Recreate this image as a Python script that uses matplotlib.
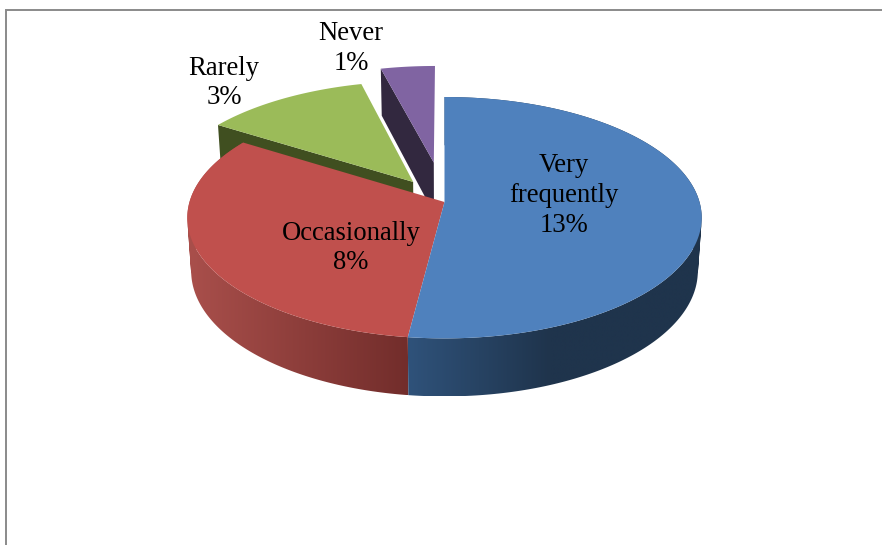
import numpy as np
import matplotlib
matplotlib.use("Agg")
import matplotlib.pyplot as plt
from matplotlib.colors import LinearSegmentedColormap
from matplotlib.patches import PathPatch
from matplotlib.path import Path

categories = ["Very\nfrequently", "Occasionally", "Rarely", "Never"]
values = [13, 8, 3, 1]
pct_labels = ["13%", "8%", "3%", "1%"]

explode = [0.0, 0.0, 0.214, 0.35]
top_colors = ["#4F81BD", "#C0504D", "#9BBB59", "#8064A2"]
cut_colors = ["#1F344C", "#722D2B", "#404F20", "#32283F"]
label_xy = [(564, 195.5), (351, 248), (224, 83), (351, 48.5)]

# projection of the tilted pie onto the picture
CX, CY, RX, RY, K = 444.5, 202.0, 255.0, 118.65, 0.13
H, KH, SHRINK = 52.7, 0.092, 0.985


def project(u, v, drop=False):
    u, v = np.asarray(u, float), np.asarray(v, float)
    d = 1 + K * v
    x = RX * u / d
    y = CY - RY * v / d
    if drop:
        x = x * SHRINK
        y = y + H / (1 + KH * v)
    return CX + x, y


def wall_path(tx, ty, bx, by):
    """Compound path of consistently wound quads joining two arcs."""
    parts = []
    for j in range(len(tx) - 1):
        q = np.array([[tx[j], ty[j]], [tx[j + 1], ty[j + 1]],
                      [bx[j + 1], by[j + 1]], [bx[j], by[j]]])
        area = np.sum(q[:, 0] * np.roll(q[:, 1], -1) - np.roll(q[:, 0], -1) * q[:, 1])
        if area < 0:
            q = q[::-1]
        parts.append(Path(np.vstack([q, q[0]]), closed=True))
    return Path.make_compound_path(*parts)


fig = plt.figure(figsize=(8.82, 5.45), dpi=100)
ax = fig.add_axes([0, 0, 1, 1])

# outer frame
ax.plot([6, 6, 882], [545, 9.5, 9.5], color="#8a8a8a", lw=1.4, solid_joinstyle="miter", zorder=1)

shares = np.array(values, float) / sum(values)
edges = np.concatenate([[0], np.cumsum(shares)]) * 2 * np.pi

# wall shading: colour from, colour to, pixel column range of the ramp
wall_gradients = {0: ("#2F527A", "#1F344C", 408, 550), 1: ("#A94F4B", "#722D2B", 190, 408)}

z = 2
# paint back to front: Never, Rarely, Occasionally, Very frequently
for i in [3, 2, 1, 0]:
    a0, a1 = edges[i], edges[i + 1]
    mid = (a0 + a1) / 2
    ou, ov = explode[i] * np.sin(mid), explode[i] * np.cos(mid)
    th = np.linspace(a0, a1, 240)
    u, v = ou + np.sin(th), ov + np.cos(th)

    # visible cut face running along the slice's start edge
    if i in (2, 3):
        cu, cv = ou + np.sin(a0), ov + np.cos(a0)
        tx, ty = project([ou, cu], [ov, cv])
        bx, by = project([ou, cu], [ov, cv], drop=True)
        ax.fill(np.r_[tx, bx[::-1]], np.r_[ty, by[::-1]], color=cut_colors[i], lw=0, zorder=z)
        z += 1

    # outer wall with a horizontal shading
    if i in wall_gradients:
        c1, c2, x1, x2 = wall_gradients[i]
        tx, ty = project(u, v)
        bx, by = project(u, v, drop=True)
        left = min(tx.min(), bx.min())
        right = max(tx.max(), bx.max())
        top = min(ty.min(), by.min())
        bottom = max(ty.max(), by.max())
        cmap = LinearSegmentedColormap.from_list("wall", [c1, c2])
        cols = np.linspace(left, right, 512)
        ramp = np.clip((cols - x1) / (x2 - x1), 0, 1)[None, :]
        im = ax.imshow(ramp, cmap=cmap, vmin=0, vmax=1, aspect="auto", zorder=z,
                       extent=(left, right, bottom, top), interpolation="bilinear")
        clip = PathPatch(wall_path(tx, ty, bx, by), transform=ax.transData)
        im.set_clip_path(clip)
        z += 1

    # top face
    px, py = project(np.r_[ou, u], np.r_[ov, v])
    ax.fill(px, py, facecolor=top_colors[i], edgecolor="none", lw=0, zorder=z)
    z += 1

for name, pct, (x, y) in zip(categories, pct_labels, label_xy):
    ax.text(x, y, f"{name}\n{pct}", ha="center", va="center", color="black",
            family="Liberation Serif", fontsize=19.2, linespacing=1.24, zorder=z)

ax.set_xlim(0, 882)
ax.set_ylim(545, 0)
ax.axis("off")

fig.savefig("out.png", dpi=100)
